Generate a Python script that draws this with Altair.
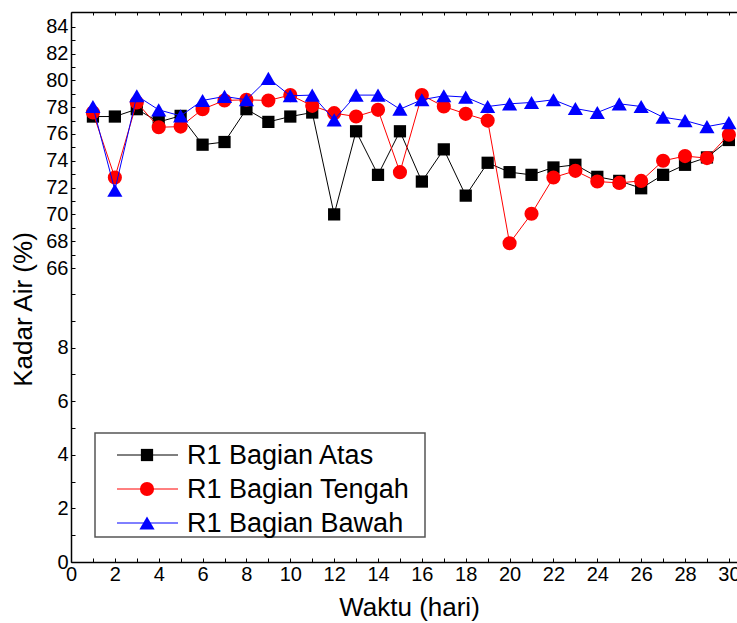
import altair as alt
import pandas as pd

days = list(range(1, 31))
series_names = ["R1 Bagian Atas", "R1 Bagian Tengah", "R1 Bagian Bawah"]
atas = [77.3, 77.3, 77.85, 76.9, 77.35, 75.2, 75.4, 77.85, 76.9, 77.3,
        77.6, 70.0, 76.2, 72.95, 76.2, 72.45, 74.85, 71.4, 73.85, 73.15,
        72.95, 73.5, 73.7, 72.8, 72.5, 71.95, 72.95, 73.7, 74.25, 75.55]
tengah = [77.6, 72.75, 78.35, 76.5, 76.55, 77.85, 78.5, 78.55, 78.5, 78.9,
          78.1, 77.55, 77.3, 77.8, 73.15, 78.9, 78.05, 77.5, 77.0, 67.85,
          70.05, 72.75, 73.25, 72.45, 72.35, 72.5, 74.0, 74.35, 74.2, 75.95]
bawah = [78.05, 71.8, 78.85, 77.8, 77.35, 78.5, 78.8, 78.55, 80.15, 78.85,
         78.9, 77.05, 78.9, 78.9, 77.85, 78.55, 78.85, 78.75, 78.05, 78.25,
         78.35, 78.55, 77.9, 77.6, 78.25, 78.05, 77.25, 77.0, 76.55, 76.85]
colors = ["#000000", "#ff0000", "#0000ff"]
shapes = ["square", "circle", "triangle-up"]
sizes = [150, 200, 230]

x_ticks = list(range(0, 31))
y_ticks = list(range(0, 11)) + list(range(66, 85))

FONT = "Liberation Sans"
W, H = 666, 550

x_scale = alt.Scale(domain=[0, 30.37], nice=False, zero=False)
y_scale = alt.Scale(domain=[0, 10, 66, 85.1], range=[550, 282, 256, 0], nice=False, zero=False)

x_main = alt.Axis(orient="bottom", values=x_ticks, grid=False,
                  labelExpr="datum.value % 2 == 0 ? datum.label : ''",
                  ticks=False, domain=True, domainColor="black", domainWidth=1.5,
                  labelFontSize=20, labelPadding=2, labelColor="black", labelFont=FONT,
                  labelOverlap=False, labelFlush=False,
                  title="Waktu (hari)", titleFontSize=26, titleFont=FONT, titleFontWeight="normal",
                  titleColor="black", titleX=338, titleY=45, titleBaseline="middle")
x_ticks_bottom = alt.Axis(orient="bottom", values=x_ticks, grid=False, labels=False, domain=False,
                          ticks=True, tickSize=4, offset=-4, tickColor="black", tickWidth=1, title=None)
x_top = alt.Axis(orient="top", values=x_ticks, grid=False, labels=False, ticks=False,
                 domain=True, domainColor="black", domainWidth=1.5, title=None)
x_ticks_top = alt.Axis(orient="top", values=x_ticks, grid=False, labels=False, domain=False,
                       ticks=True, tickSize=3, offset=-3, tickColor="black", tickWidth=1, title=None)

y_main = alt.Axis(orient="left", values=y_ticks, grid=False,
                  labelExpr="((datum.value <= 8 || datum.value >= 66) && datum.value % 2 == 0) ? datum.label : ''",
                  ticks=False, domain=True, domainColor="black", domainWidth=1.5,
                  labelFontSize=20, labelPadding=3, labelColor="black", labelFont=FONT,
                  labelOverlap=False, labelFlush=False,
                  title="Kadar Air (%)", titleFontSize=26, titleFont=FONT, titleFontWeight="normal",
                  titleColor="black", titleX=-48, titleY=297, titleBaseline="middle")
y_ticks_left = alt.Axis(orient="left", values=y_ticks, grid=False, labels=False, domain=False,
                        ticks=True, tickSize=4, offset=-4, tickColor="black", tickWidth=1, title=None)

rows = []
for name, vals in zip(series_names, [atas, tengah, bawah]):
    for d, v in zip(days, vals):
        rows.append({"day": d, "value": v, "series": name})
df = pd.DataFrame(rows)

line_axes = [(x_main, y_main), (x_ticks_bottom, y_ticks_left), (x_top, None)]
point_axes = [(x_ticks_top, None), (None, None), (None, None)]

layers = []
for i, name in enumerate(series_names):
    sub = alt.Chart(df).transform_filter(alt.datum.series == name)
    xa, ya = line_axes[i]
    line = sub.mark_line(color=colors[i], strokeWidth=1).encode(
        x=alt.X("day:Q", scale=x_scale, axis=xa),
        y=alt.Y("value:Q", scale=y_scale, axis=ya),
    )
    xa2, ya2 = point_axes[i]
    pts = sub.mark_point(filled=True, opacity=1, color=colors[i], shape=shapes[i], size=sizes[i]).encode(
        x=alt.X("day:Q", scale=x_scale, axis=xa2),
        y=alt.Y("value:Q", scale=y_scale, axis=ya2),
    )
    layers += [line, pts]

# legend (decoration)
box_df = pd.DataFrame({"k": [0]})
box = alt.Chart(box_df).mark_rect(fill="white", stroke="#555555", strokeWidth=1.5).encode(
    x=alt.value(24), x2=alt.value(354), y=alt.value(421), y2=alt.value(525))
layers.append(box)
row_y = [443, 477, 511]
for i, name in enumerate(series_names):
    ldf = pd.DataFrame({"label": [name]})
    base = alt.Chart(ldf)
    layers.append(base.mark_rule(color=colors[i], strokeWidth=1).encode(
        x=alt.value(46), x2=alt.value(107), y=alt.value(row_y[i])))
    layers.append(base.mark_point(filled=True, opacity=1, color=colors[i], shape=shapes[i],
                                  size=sizes[i]).encode(x=alt.value(76), y=alt.value(row_y[i])))
    layers.append(base.mark_text(align="left", baseline="middle", fontSize=27, font=FONT,
                                 color="black").encode(
        x=alt.value(116), y=alt.value(row_y[i] + 1), text="label:N"))

chart = alt.layer(*layers).resolve_axis(x="independent", y="independent").properties(
    width=W, height=H, autosize="none",
    padding={"left": 71, "top": 12, "right": 0, "bottom": 61},
).configure_view(stroke=None).configure(background="white")

chart.save("out.html", embed_options={"renderer": "svg", "actions": False})
